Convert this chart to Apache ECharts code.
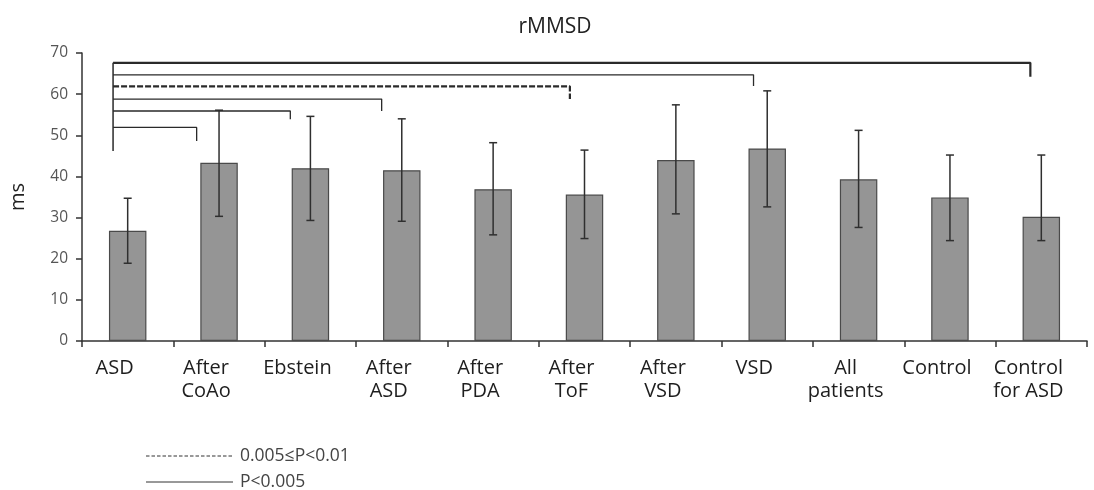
<!DOCTYPE html>
<html>
<head>
<meta charset="utf-8">
<script src="https://cdn.jsdelivr.net/npm/echarts@6/dist/echarts.min.js"></script>
<style>
  html, body { margin: 0; padding: 0; background: #fff; }
  #chart { width: 1094px; height: 490px; }
</style>
</head>
<body>
<div id="chart"></div>
<script>
// ---- data ----
var categories = ['ASD', 'After\nCoAo', 'Ebstein', 'After\nASD', 'After\nPDA', 'After\nToF', 'After\nVSD', 'VSD', 'All\npatients', 'Control', 'Control\nfor ASD'];
var means      = [26.8, 43.3, 42.0, 41.5, 36.9, 35.6, 44.0, 46.8, 39.3, 34.9, 30.2];
var errLower   = [18.9, 30.3, 29.3, 29.1, 25.8, 24.9, 30.9, 32.6, 27.6, 24.4, 24.4];
var errUpper   = [34.7, 56.1, 54.6, 54.0, 48.2, 46.4, 57.4, 60.8, 51.2, 45.2, 45.2];
var yTicks     = [0, 10, 20, 30, 40, 50, 60, 70];

// significance brackets (x in category-index units)
var bracketStartX  = -0.16;
var bracketStemLow = 46.2;
var bracketEndX    = [9.88, 6.85, 4.84, 2.78, 1.78, 0.755];
var bracketTopY    = [67.6, 64.7, 61.9, 58.8, 55.9, 51.9];
var bracketDropY   = [64.2, 62.0, 58.8, 55.9, 53.9, 48.6];
var bracketLevel   = ['P<0.005', 'P<0.005', '0.005≤P<0.01', 'P<0.005', 'P<0.005', 'P<0.005'];
var legendLabels   = ['0.005≤P<0.01', 'P<0.005'];

// ---- chart ----
var chart = echarts.init(document.getElementById('chart'), null, { renderer: 'canvas' });
var FONT = '"Open Sans", "Noto Sans", sans-serif';

var series = [];

series.push({
  type: 'bar',
  xAxisIndex: 0, yAxisIndex: 0,
  data: means,
  barWidth: '41%',
  itemStyle: { color: '#959595', borderColor: '#4a4a4a', borderWidth: 1.2 },
  silent: true,
  z: 2
});

var errData = categories.map(function (c, i) { return [i, errLower[i], errUpper[i]]; });
series.push({
  type: 'custom',
  xAxisIndex: 0, yAxisIndex: 0,
  data: errData,
  z: 5,
  silent: true,
  renderItem: function (params, api) {
    var x = api.value(0);
    var lo = api.coord([x, api.value(1)]);
    var hi = api.coord([x, api.value(2)]);
    var half = 4;
    var st = { stroke: '#2f2f2f', lineWidth: 1.5 };
    return {
      type: 'group',
      children: [
        { type: 'line', shape: { x1: lo[0], y1: lo[1], x2: hi[0], y2: hi[1] }, style: st },
        { type: 'line', shape: { x1: lo[0] - half, y1: lo[1], x2: lo[0] + half, y2: lo[1] }, style: st },
        { type: 'line', shape: { x1: hi[0] - half, y1: hi[1], x2: hi[0] + half, y2: hi[1] }, style: st }
      ]
    };
  }
});

// bracket stem
series.push({
  type: 'line',
  name: 'P<0.005',
  xAxisIndex: 1, yAxisIndex: 0,
  data: [[bracketStartX, bracketStemLow], [bracketStartX, bracketTopY[0]]],
  symbol: 'none',
  silent: true,
  lineStyle: { color: '#2a2a2a', width: 1.5, type: 'solid' },
  z: 6
});

bracketEndX.forEach(function (xe, i) {
  var dashed = bracketLevel[i] !== 'P<0.005';
  series.push({
    type: 'line',
    name: bracketLevel[i],
    xAxisIndex: 1, yAxisIndex: 0,
    data: [[bracketStartX, bracketTopY[i]], [xe, bracketTopY[i]], [xe, bracketDropY[i]]],
    symbol: 'none',
    silent: true,
    lineStyle: {
      color: '#2a2a2a',
      width: (i === 0 || dashed) ? 2.2 : 1.3,
      type: dashed ? [6, 2] : 'solid'
    },
    z: 6
  });
});

// legend drawn as graphic (line sample + text)
var legendGraphics = [];
legendLabels.forEach(function (lbl, i) {
  var y = 456 + i * 26;
  legendGraphics.push({
    type: 'line',
    shape: { x1: 146, y1: y, x2: 233, y2: y },
    style: { stroke: '#333', lineWidth: 1, lineDash: i === 0 ? [3.5, 2] : null }
  });
  legendGraphics.push({
    type: 'text',
    x: 240, y: y,
    style: { text: lbl, fontFamily: FONT, fontSize: 17.5, fill: '#444', textVerticalAlign: 'middle', verticalAlign: 'middle' }
  });
});

var option = {
  animation: false,
  backgroundColor: '#ffffff',
  title: {
    text: 'rMMSD',
    left: 550, top: 12,
    textAlign: 'center',
    textStyle: { fontFamily: FONT, fontSize: 21, fontWeight: 'normal', color: '#222' }
  },
  graphic: legendGraphics,
  grid: { left: 79, right: 7, top: 53, bottom: 149, containLabel: false },
  xAxis: [
    {
      type: 'category',
      data: categories,
      axisLine: { lineStyle: { color: '#333', width: 1.5 } },
      axisTick: { show: true, length: 6, lineStyle: { color: '#333', width: 1.5 } },
      axisLabel: {
        interval: 0,
        margin: 16,
        fontFamily: FONT, fontSize: 20, lineHeight: 23, color: '#1e1e1e',
        padding: [0, 26, 0, 0]
      }
    },
    {
      type: 'value',
      min: -0.5, max: 10.5,
      show: false
    }
  ],
  yAxis: {
    type: 'value',
    min: 0, max: 70, interval: 10,
    name: 'ms',
    nameLocation: 'middle',
    nameGap: 54,
    nameTextStyle: { fontFamily: FONT, fontSize: 20, color: '#222' },
    axisLine: { show: true, onZero: false, lineStyle: { color: '#333', width: 1.5 } },
    axisTick: { show: true, length: 6, lineStyle: { color: '#333', width: 1.5 } },
    splitLine: { show: false },
    axisLabel: {
      margin: 14,
      fontFamily: FONT, fontSize: 15.5, color: '#555',
      formatter: function (v) { return yTicks.indexOf(v) >= 0 ? String(v) : ''; }
    }
  },
  series: series
};

chart.setOption(option);
</script>
</body>
</html>
